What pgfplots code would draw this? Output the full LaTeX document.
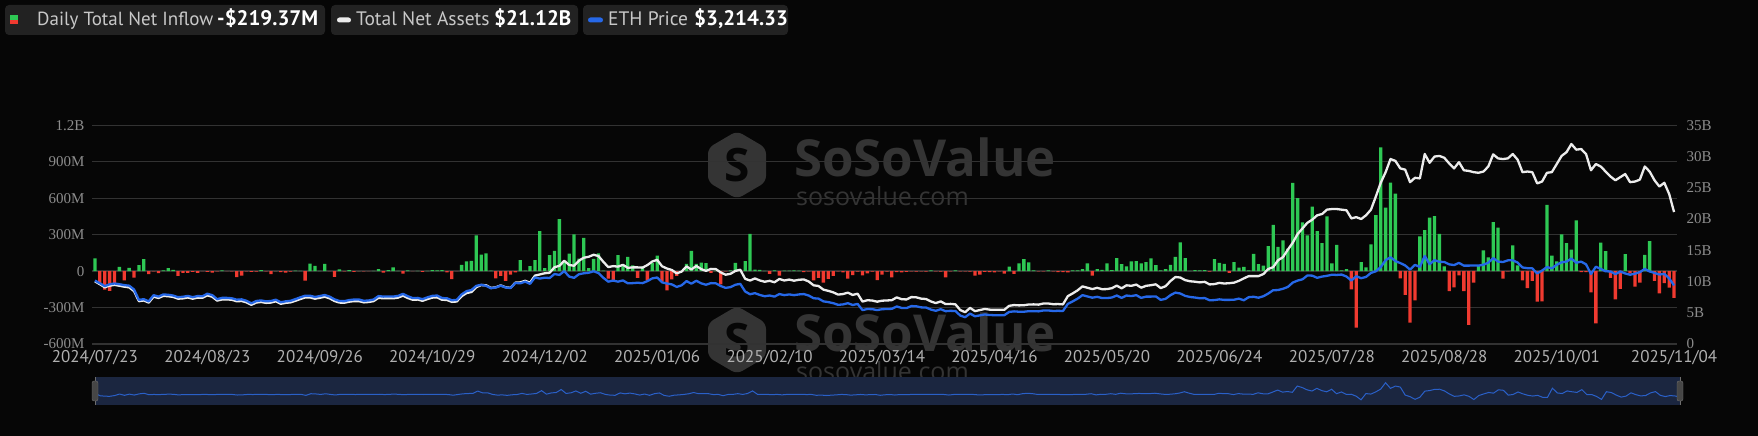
\documentclass[border=0pt]{standalone}
\usepackage{fontspec}
\setmainfont{Liberation Serif}
\newfontfamily\ptsans{PT Sans}
\newfontfamily\wmfont{Open Sans}
\usepackage{pgfplots}
\usepackage{pgfplotstable}
\pgfplotsset{compat=1.18}
\usepgfplotslibrary{fillbetween}

\definecolor{bgc}{RGB}{6,6,6}
\definecolor{gridc}{RGB}{50,50,50}
\definecolor{tickc}{RGB}{140,140,140}
\definecolor{xtickc}{RGB}{176,176,176}
\definecolor{greenc}{RGB}{46,200,84}
\definecolor{redc}{RGB}{240,58,48}
\definecolor{whitec}{RGB}{236,236,236}
\definecolor{bluec}{RGB}{38,104,232}
\definecolor{legbg}{RGB}{34,34,34}
\definecolor{legtxt}{RGB}{200,200,200}
\definecolor{wmc}{RGB}{52,52,52}
\definecolor{navbg}{RGB}{27,38,64}
\definecolor{navfill}{RGB}{30,56,108}
\definecolor{navline}{RGB}{42,96,200}
\definecolor{handlec}{RGB}{70,70,70}
\definecolor{handled}{RGB}{110,110,110}

% i = trading day index, f = daily net inflow (M USD), t = total net assets (B USD), p = ETH price (USD)
\pgfplotstableread{
i f t p
0 105 10.02 3480
1 -113 9.57 3335
2 -152 9.08 3175
3 -163 9.33 3275
4 -98 9.46 3320
5 34 9.32 3280
6 -77 9.17 3230
7 27 9.06 3200
8 -54 8.46 2990
9 49 6.85 2420
10 98 6.96 2460
11 -24 6.62 2340
12 -2 7.58 2680
13 -16 7.36 2600
14 5 7.70 2720
15 24 7.64 2700
16 11 7.53 2660
17 -40 7.25 2570
18 -15 7.30 2590
19 -14 7.44 2640
20 -6 7.25 2570
21 -15 7.42 2630
22 -1 7.39 2620
23 -6 7.78 2760
24 -12 7.56 2680
25 -3 6.94 2460
26 5 7.13 2530
27 -1 7.13 2530
28 -3 7.08 2510
29 -50 6.83 2430
30 -38 6.88 2450
31 -2 6.66 2370
32 -6 6.27 2230
33 -5 6.63 2360
34 7 6.72 2390
35 -2 6.58 2340
36 -25 6.63 2360
37 0 6.83 2430
38 -8 6.43 2290
39 -12 6.58 2340
40 -5 6.66 2370
41 3 6.91 2460
42 2 7.19 2560
43 -79 7.45 2650
44 62 7.45 2650
45 43 7.25 2580
46 1 7.39 2630
47 59 7.56 2690
48 -1 7.31 2600
49 -48 6.88 2450
50 15 6.63 2360
51 -3 6.60 2350
52 7 6.77 2410
53 -7 6.86 2440
54 0 6.86 2440
55 -3 6.66 2370
56 -1 6.72 2390
57 2 6.86 2440
58 16 7.39 2630
59 -13 7.31 2600
60 8 7.33 2610
61 30 7.31 2600
62 2 7.42 2640
63 -20 7.73 2750
64 5 7.36 2620
65 -1 7.08 2520
66 1 7.11 2530
67 -6 6.91 2460
68 2 7.19 2560
69 7 7.42 2640
70 5 7.47 2660
71 8 7.08 2520
72 -11 7.05 2510
73 -66 6.74 2400
74 -1 6.80 2420
75 52 7.64 2720
76 80 8.15 2900
77 85 8.32 2960
78 293 9.09 3190
79 135 9.43 3250
80 145 9.41 3190
81 3 8.97 3060
82 -60 9.08 3100
83 -39 9.38 3200
84 -81 9.08 3100
85 -30 8.99 3070
86 -10 9.82 3350
87 91 9.86 3330
88 3 10.12 3420
89 40 9.80 3300
90 90 10.95 3650
91 330 11.13 3590
92 24 11.32 3640
93 132 11.40 3620
94 167 12.29 3840
95 428 12.51 3790
96 84 13.32 4000
97 143 12.65 3700
98 302 12.52 3630
99 102 13.33 3830
100 274 13.81 3880
101 24 13.96 3910
102 100 14.28 3990
103 146 14.08 3890
104 3 13.14 3630
105 -61 12.31 3420
106 -75 12.46 3480
107 131 12.38 3420
108 54 12.67 3490
109 117 12.19 3330
110 47 12.26 3340
111 -55 12.26 3360
112 36 12.22 3340
113 -77 12.63 3450
114 66 13.21 3600
115 128 13.47 3650
116 -87 12.44 3380
117 -159 12.08 3320
118 -68 11.84 3270
119 -39 11.30 3130
120 -2 11.59 3220
121 60 12.42 3450
122 166 11.92 3310
123 60 12.49 3470
124 70 11.99 3330
125 65 11.70 3250
126 -15 12.02 3340
127 4 11.99 3330
128 -110 11.45 3180
129 -3 11.09 3080
130 5 11.23 3120
131 67 11.70 3250
132 2 11.88 3300
133 83 10.43 2880
134 307 10.16 2730
135 12 10.49 2790
136 10 10.17 2690
137 2 9.96 2620
138 -23 10.11 2660
139 6 9.88 2600
140 -38 10.41 2740
141 4 10.16 2680
142 3 10.31 2720
143 5 10.13 2680
144 3 10.28 2720
145 -8 10.33 2740
146 -2 10.00 2660
147 -76 9.39 2510
148 -55 9.29 2490
149 -94 8.70 2340
150 -65 8.51 2300
151 -40 8.27 2240
152 -3 7.91 2150
153 -10 7.99 2170
154 -62 8.22 2240
155 -34 7.85 2140
156 -4 8.05 2200
157 -36 6.79 1860
158 -18 7.01 1920
159 -4 6.95 1910
160 -74 6.77 1860
161 -30 6.93 1910
162 -5 6.97 1920
163 -52 7.01 1930
164 -8 7.46 2060
165 -10 7.17 1980
166 -6 7.13 1970
167 -3 7.51 2080
168 -5 7.47 2070
169 -2 7.26 2010
170 -4 7.20 2000
171 5 6.80 1890
172 -3 6.55 1820
173 -4 6.82 1910
174 -52 6.39 1800
175 -3 6.42 1820
176 6 6.35 1810
177 -3 5.43 1560
178 -2 5.09 1470
179 -4 5.78 1670
180 -38 5.26 1520
181 -30 5.43 1570
182 -6 5.61 1620
183 -8 5.50 1590
184 -10 5.47 1580
185 -2 5.47 1580
186 -20 5.47 1580
187 36 6.11 1760
188 -22 6.23 1790
189 63 6.18 1770
190 99 6.20 1770
191 71 6.32 1800
192 6 6.34 1800
193 -3 6.30 1790
194 -2 6.48 1840
195 5 6.48 1840
196 -2 6.37 1810
197 -8 6.39 1820
198 -8 6.34 1810
199 -10 7.66 2200
200 6 8.10 2340
201 5 8.59 2490
202 16 9.22 2680
203 63 9.00 2610
204 -38 8.79 2540
205 16 8.99 2590
206 11 8.77 2520
207 63 8.79 2520
208 8 8.93 2550
209 107 9.34 2660
210 58 8.91 2530
211 38 9.39 2660
212 80 9.31 2630
213 82 9.51 2680
214 63 9.01 2530
215 73 9.31 2600
216 105 9.41 2600
217 50 9.55 2610
218 5 8.95 2420
219 16 9.25 2480
220 52 10.08 2680
221 118 10.72 2820
222 236 10.64 2770
223 107 10.22 2640
224 2 10.04 2580
225 7 9.97 2550
226 5 9.86 2510
227 8 9.95 2520
228 -5 9.53 2400
229 99 9.59 2410
230 68 9.78 2450
231 60 9.68 2420
232 -15 9.73 2420
233 74 9.82 2430
234 28 10.11 2490
235 35 10.50 2400
236 5 10.86 2570
237 142 10.86 2590
238 58 10.86 2540
239 45 11.20 2620
240 205 12.00 2770
241 380 12.30 2950
242 200 13.40 2960
243 252 13.90 3030
244 185 15.10 3130
245 726 16.20 3370
246 600 17.60 3480
247 400 18.50 3550
248 295 19.40 3760
249 530 19.90 3750
250 330 20.60 3630
251 230 20.80 3700
252 450 21.50 3740
253 63 21.60 3800
254 215 21.60 3790
255 6 21.50 3810
256 17 21.40 3700
257 -150 20.10 3480
258 -465 20.30 3720
259 73 20.00 3610
260 30 20.60 3680
261 220 21.50 3900
262 460 23.60 3990
263 1018 25.80 4220
264 523 27.50 4600
265 728 29.60 4760
266 638 29.30 4550
267 -59 28.10 4440
268 -196 27.90 4310
269 -425 25.90 4080
270 -240 26.60 4340
271 286 26.50 4230
272 337 30.40 4830
273 440 29.00 4380
274 452 30.00 4600
275 306 30.10 4510
276 38 29.80 4500
277 -164 28.90 4370
278 -133 28.10 4330
279 -36 29.10 4450
280 -165 27.80 4300
281 -443 27.70 4300
282 -95 27.50 4310
283 44 27.40 4300
284 170 27.60 4350
285 112 28.40 4460
286 404 30.35 4710
287 358 29.70 4520
288 -61 29.60 4500
289 -2 29.70 4590
290 212 30.40 4590
291 47 29.50 4470
292 -76 27.50 4200
293 -140 27.60 4160
294 -80 27.50 4150
295 -251 25.70 3870
296 -249 26.00 4030
297 545 27.40 4220
298 127 27.50 4150
299 81 28.80 4350
300 303 30.10 4480
301 231 30.70 4520
302 176 32.00 4690
303 418 31.10 4460
304 -9 31.20 4520
305 -9 30.40 4370
306 -176 27.80 3840
307 -430 28.80 4240
308 234 28.40 4120
309 165 27.60 3990
310 -55 26.80 3980
311 -232 26.20 3830
312 -146 26.70 3980
313 140 27.20 3870
314 -19 25.90 3800
315 -128 26.00 3860
316 -94 26.30 3940
317 134 28.40 4120
318 246 27.60 3980
319 -81 26.20 3900
320 -184 25.20 3810
321 -98 25.80 3850
322 -136 24.00 3600
323 -219.37 21.12 3214.33
}\ethdata

\begin{document}
\begin{tikzpicture}[x=1pt,y=1pt]
\fill[bgc] (0,0) rectangle (1758,436);

% ---------- watermarks ----------
\foreach \yy in {0,-175}{
  \begin{scope}[yshift=\yy]
  \fill[wmc, rounded corners=6pt] (737,305) -- (766,288) -- (766,254) -- (737,237) -- (708,254) -- (708,288) -- cycle;
  \node[text=bgc, font=\wmfont\bfseries\fontsize{46}{46}\selectfont] at (737,271) {S};
  \node[text=wmc, font=\wmfont\bfseries\fontsize{51}{51}\selectfont, anchor=west, inner sep=0] at (794,279) {SoSoValue};
  \node[text=wmc, font=\wmfont\fontsize{25}{25}\selectfont, anchor=west, inner sep=0] at (796,240) {sosovalue.com};
  \end{scope}
}

% ---------- legend ----------
\fill[legbg, rounded corners=4pt] (5,401) rectangle (325,431);
\fill[greenc] (10,416) rectangle (18,420.5);
\fill[redc] (10,411.5) rectangle (18,416);
\node[anchor=base west, inner sep=0, text=legtxt, font=\ptsans\fontsize{19}{19}\selectfont] at (37,410) {Daily Total Net Inflow};
\node[anchor=base west, inner sep=0, text=white, font=\ptsans\bfseries\fontsize{21}{21}\selectfont] at (217,410) {-\$219.37M};

\fill[legbg, rounded corners=4pt] (331,401) rectangle (578,431);
\fill[whitec, rounded corners=2.5pt] (337,413.5) rectangle (351,418.5);
\node[anchor=base west, inner sep=0, text=legtxt, font=\ptsans\fontsize{19.5}{19.5}\selectfont] at (356,410) {Total Net Assets};
\node[anchor=base west, inner sep=0, text=white, font=\ptsans\bfseries\fontsize{21}{21}\selectfont] at (494,410) {\$21.12B};

\fill[legbg, rounded corners=4pt] (583,401) rectangle (788,431);
\fill[bluec, rounded corners=2.5pt] (588,413.5) rectangle (603,418.5);
\node[anchor=base west, inner sep=0, text=legtxt, font=\ptsans\fontsize{19.5}{19.5}\selectfont] at (608,410) {ETH Price};
\node[anchor=base west, inner sep=0, text=white, font=\ptsans\bfseries\fontsize{21}{21}\selectfont] at (694,410) {\$3,214.33};

% ---------- main axis: daily net inflow ----------
\begin{axis}[
  at={(92pt,92pt)}, anchor=south west, scale only axis,
  width=1585pt, height=218.7pt,
  xmin=-0.6, xmax=323.6, ymin=-600, ymax=1200,
  axis line style={draw=none}, major tick length=0pt,
  ymajorgrids, grid style={gridc, line width=1.3pt},
  ytick={-600,-300,0,300,600,900,1200},
  yticklabels={-600M,-300M,0,300M,600M,900M,1.2B},
  yticklabel style={font=\fontsize{15}{15}\selectfont, text=tickc, anchor=east, xshift=-4pt},
  xtick={0,23,46,69,92,115,138,161,184,207,230,253,276,299,323},
  xticklabels={2024/07/23,2024/08/23,2024/09/26,2024/10/29,2024/12/02,2025/01/06,2025/02/10,2025/03/14,2025/04/16,2025/05/20,2025/06/24,2025/07/28,2025/08/28,2025/10/01,2025/11/04},
  xticklabel style={font=\ptsans\fontsize{17}{17}\selectfont, text=xtickc, yshift=-3pt},
]
\addplot[ybar, bar width=0.68, bar shift=0pt, fill=greenc, draw=none, restrict y to domain=0:5000] table[x=i,y=f]{\ethdata};
\addplot[ybar, bar width=0.68, bar shift=0pt, fill=redc, draw=none, restrict y to domain=-5000:0] table[x=i,y=f]{\ethdata};
\end{axis}

% ---------- right axis: total net assets ----------
\begin{axis}[
  at={(92pt,92pt)}, anchor=south west, scale only axis,
  width=1585pt, height=218.7pt,
  xmin=-0.6, xmax=323.6, ymin=0, ymax=35,
  axis line style={draw=none}, major tick length=0pt,
  xtick=\empty, yticklabel pos=right,
  ytick={0,5,10,15,20,25,30,35},
  yticklabels={0,5B,10B,15B,20B,25B,30B,35B},
  yticklabel style={font=\fontsize{15}{15}\selectfont, text=tickc, anchor=west, xshift=6pt},
]
\addplot[whitec, line width=2.3pt, line join=round] table[x=i,y=t]{\ethdata};
\end{axis}

% ---------- hidden axis: ETH price ----------
\begin{axis}[
  at={(92pt,92pt)}, anchor=south west, scale only axis,
  width=1585pt, height=218.7pt,
  xmin=-0.6, xmax=323.6, ymin=0, ymax=12000, hide axis,
]
\addplot[bluec, line width=2.3pt, line join=round] table[x=i,y=p]{\ethdata};
\end{axis}

% ---------- navigator ----------
\fill[navbg] (95,31.2) rectangle (1680,59.3);
\begin{axis}[
  at={(95pt,31.2pt)}, anchor=south west, scale only axis,
  width=1585pt, height=28.1pt,
  xmin=0, xmax=323, ymin=-900, ymax=1540, hide axis,
]
\addplot[name path=nav, draw=none] table[x=i,y=f]{\ethdata};
\addplot[name path=navbot, draw=none] coordinates {(0,-900) (323,-900)};
\addplot[navfill] fill between[of=nav and navbot];
\addplot[navline, line width=1pt] table[x=i,y=f]{\ethdata};
\end{axis}
\draw[handled, line width=1pt] (95,31.2) -- (95,59.3);
\draw[handled, line width=1pt] (1680,31.2) -- (1680,59.3);
\filldraw[fill=handlec, draw=handled, rounded corners=2pt] (92,35) rectangle (98,55);
\filldraw[fill=handlec, draw=handled, rounded corners=2pt] (1677,35) rectangle (1683,55);

\pgfresetboundingbox
\path[use as bounding box] (0,0) rectangle (1758,436);
\end{tikzpicture}
\end{document}
